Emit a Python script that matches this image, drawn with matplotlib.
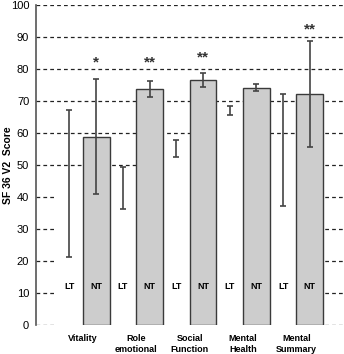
import matplotlib
matplotlib.use('Agg')
import matplotlib.pyplot as plt
import numpy as np

categories = ['Vitality', 'Role\nemotional', 'Social\nFunction', 'Mental\nHealth', 'Mental\nSummary']
lt_mean = [44.4, 42.9, 55.2, 67.1, 54.7]
lt_err = [23.0, 6.7, 2.7, 1.5, 17.5]
nt_mean = [59.0, 74.0, 76.7, 74.2, 72.3]
nt_err = [18.0, 2.5, 2.3, 1.1, 16.6]
stars = ['*', '**', '**', '', '**']
star_y = [82, 82, 83.6, 0, 92.4]

plt.rcParams['font.family'] = ['Liberation Sans', 'DejaVu Sans']

fig = plt.figure(figsize=(3.44, 3.54), dpi=100)
ax = fig.add_axes([0.105, 0.081, 0.895, 0.904])

x = np.arange(len(categories))
w = 0.5

# dashed grid behind the bars
for yv in range(0, 101, 10):
    ax.axhline(yv, color='#222222', ls=(0, (3, 2.5)), lw=0.9, zorder=0)

ax.bar(x - 0.25, lt_mean, w, color='white', edgecolor='none', zorder=2)
ax.bar(x + 0.25, nt_mean, w, color='#cdcdcd', edgecolor='#3a3a3a', lw=1.0, zorder=2)
ax.errorbar(x - 0.25, lt_mean, yerr=lt_err, fmt='none', ecolor='#444444',
            elinewidth=1.2, capsize=2.5, capthick=1.2, zorder=3)
ax.errorbar(x + 0.25, nt_mean, yerr=nt_err, fmt='none', ecolor='#444444',
            elinewidth=1.2, capsize=2.5, capthick=1.2, zorder=3)

for i in range(len(categories)):
    ax.text(x[i] - 0.25, 12, 'LT', ha='center', va='center', fontsize=6.5, fontweight='bold', zorder=4)
    ax.text(x[i] + 0.25, 12, 'NT', ha='center', va='center', fontsize=6.5, fontweight='bold', zorder=4)
    if stars[i]:
        ax.text(x[i] + 0.25, star_y[i], stars[i], ha='center', va='center', fontsize=11,
                fontweight='bold', color='#333333', zorder=4)

ax.set_xlim(-0.875, 4.89)
ax.set_ylim(0, 100)
ax.set_yticks(range(0, 101, 10))
ax.set_xticks(x)
ax.set_xticklabels(categories, fontsize=6.5, fontweight='bold', linespacing=1.3)
ax.tick_params(axis='both', length=0)
ax.tick_params(axis='y', labelsize=8, pad=5)
ax.tick_params(axis='x', pad=6)
for s in ['top', 'right', 'bottom']:
    ax.spines[s].set_visible(False)
ax.spines['left'].set_color('#555555')
ax.spines['left'].set_linewidth(1.2)
fig.text(8 / 344, 0.534, 'SF 36 V2  Score', rotation=90, ha='center', va='center',
         fontsize=7.5, fontweight='bold')

fig.savefig('out.png', dpi=100)
